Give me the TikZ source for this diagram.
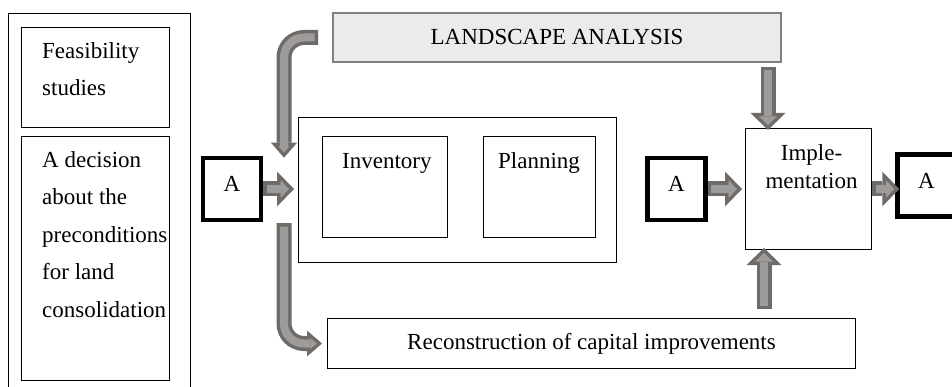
\documentclass[tikz,border=0pt]{standalone}
\usepackage{fontspec}
\setmainfont{Liberation Serif}
\usetikzlibrary{arrows.meta,calc}
\definecolor{arrdark}{RGB}{111,107,105}
\definecolor{arrlight}{RGB}{158,156,155}
\definecolor{landfill}{RGB}{235,235,235}
\definecolor{landline}{RGB}{128,128,128}

\begin{document}
\begin{tikzpicture}[x=1pt,y=-1pt,
  font=\fontsize{23}{37.5}\selectfont,
  box/.style={draw, line width=1.2pt, inner sep=0pt},
  abox/.style={draw, line width=4.5pt, inner sep=0pt, minimum width=58pt, minimum height=62pt, text height=15pt, text depth=9pt},
  lines/.style={anchor=north west, inner sep=0pt, align=left},
  blockback/.style={draw=arrdark, line width=15pt, shorten <=0pt, shorten >=0pt, -{Triangle[length=17pt,width=35pt,line width=0pt]}},
  blockflow/.style={draw=arrlight, line width=8pt, shorten <=3.5pt, shorten >=4.9pt, -{Triangle[length=8.6pt,width=17.7pt,line width=0pt]}, preaction={blockback}},
  turnback/.style={draw=arrdark, line width=15pt, shorten <=0pt, shorten >=0pt, -{Triangle[length=15pt,width=26pt,line width=0pt]}},
  turnflow/.style={draw=arrlight, line width=8pt, shorten <=3.5pt, shorten >=5.3pt, -{Triangle[length=6.2pt,width=10.7pt,line width=0pt]}, preaction={turnback}}]
\useasboundingbox (0,0) rectangle (952,387);
\clip (0,0) rectangle (952,387);

% left column
\node[box, minimum width=181.8pt, minimum height=377.8pt] (prelim) at (99.5,202.5) {};
\node[box, minimum width=147.8pt, minimum height=99.8pt] (feas) at (95.5,77.5) {};
\node[box, minimum width=147.8pt, minimum height=243.8pt] (decis) at (95.5,258.5) {};
\node[lines] (feastext) at ($(feas.north west)+(21,13)$) {\rule{0pt}{18pt}Feasibility\\studies};
\node[lines] (decistext) at ($(decis.north west)+(21,13)$) {\rule{0pt}{18pt}A decision\\about the\\preconditions\\for land\\consolidation};

% stages
\node[abox] (ina) at (232,189) {A};
\node[box, minimum width=317.8pt, minimum height=144.8pt] (prep) at (457.5,190) {};
\node[box, minimum width=124.8pt, minimum height=100.8pt] (inv) at (385,187) {};
\node[box, minimum width=111.8pt, minimum height=100.8pt] (plan) at (539.5,187) {};
\node[lines] (invtext) at ($(inv.north west)+(20,14)$) {\rule{0pt}{18pt}Inventory};
\node[lines] (plantext) at ($(plan.north west)+(15,14)$) {\rule{0pt}{18pt}Planning};
\node[draw=landline, fill=landfill, line width=2pt, minimum width=448pt, minimum height=49pt, inner sep=0pt] (land) at (557,37.5) {LANDSCAPE ANALYSIS};
\node[abox] (inb) at (676.5,189) {A};
\node[box, minimum width=125.8pt, minimum height=120.8pt] (impl) at (808.5,189) {};
\node[anchor=north, inner sep=0pt, align=center, font=\fontsize{23}{28}\selectfont] (impltext) at ($(impl.north)+(3,14)$) {\rule{0pt}{18pt}Imple-\\mentation};
\node[abox] (outa) at (926.5,185.5) {A};
\node[box, minimum width=527.8pt, minimum height=49.8pt] (recon) at (591.5,343.5) {Reconstruction of capital improvements};

% block arrows
\coordinate (topbend) at ($(land.west -| prep.west)+(-14,0)$);
\draw[blockflow] (ina.east) -- ($(prep.west |- ina.east)+(-4,0)$);
\draw[turnflow, rounded corners=20pt] ($(land.west)+(-14,0)$) -- (topbend) -- ($(topbend |- ina.north)+(0,2)$);
\draw[turnflow, rounded corners=20pt] ($(topbend |- ina.south)+(0,1)$) -- (topbend |- recon.west) -- ($(recon.west)+(-5,0)$);
\draw[blockflow] (inb.east) -- ($(impl.west |- inb.east)+(-3,0)$);
\draw[blockflow] (impl.east) -- ($(outa.west |- impl.east)+(4,0)$);
\draw[blockflow] ($(land.south east)+(-14,4)$) -- ($(land.south east |- impl.north)+(-14,2)$);
\draw[blockflow] ($(recon.north east)+(-92,-9)$) -- ($(recon.north east |- impl.south)+(-92,-2)$);
\end{tikzpicture}
\end{document}
